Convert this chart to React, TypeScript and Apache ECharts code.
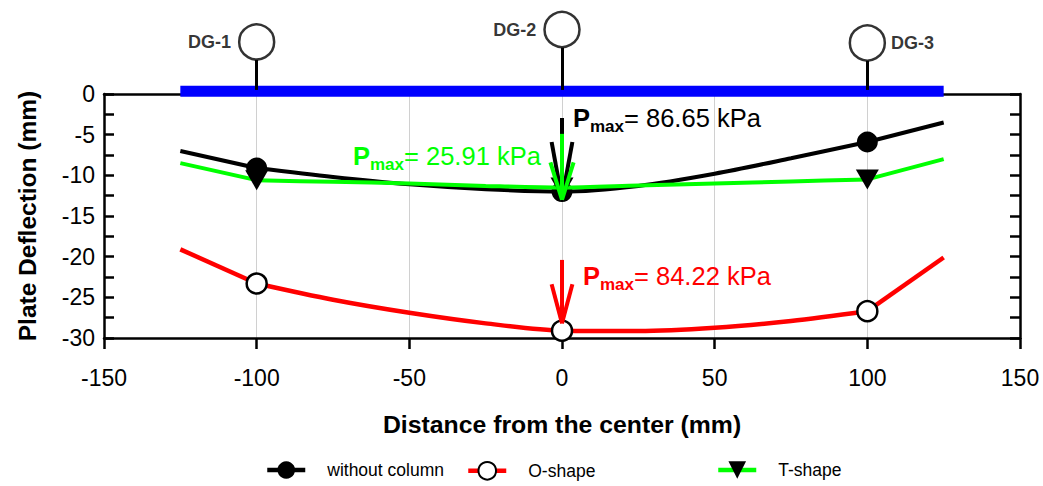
import React, { useEffect, useRef } from "react";
import * as echarts from "echarts";

// ---------- data ----------
const distances = [-125, -100, -75, -50, -25, 0, 25, 50, 75, 100, 125];
const gaugeDistances = [-100, 0, 100];
const withoutColumn = [-7.0, -9.1, -10.2, -11.1, -11.7, -12.0, -11.3, -9.8, -7.9, -5.9, -3.5];
const oShape = [-19.1, -23.3, -25.3, -26.9, -28.2, -29.1, -29.15, -28.75, -27.9, -26.7, -20.1];
const tShape = [-8.5, -10.6, -10.8, -11.0, -11.3, -11.5, -11.25, -11.0, -10.75, -10.5, -8.0];

const xTicks = [-150, -100, -50, 0, 50, 100, 150];
const plateSpan = [-125, 125];
const plateLevel = 0.35;

const gaugeNames = ["DG-1", "DG-2", "DG-3"];
const gaugeHeights = [6.4, 7.93, 6.27];
const gaugeStemTops = [4.2, 5.7, 4.1];
const gaugeStemBottom = 0.5;
const gaugeLabelSides = ["left", "left", "right"];

// load arrows at centre: [shaftTop, headTop, tip, headHalfWidth]
const arrowBlack = [-2.95, -5.9, -12.9, 3.4];
const arrowGreen = [-4.9, -8.4, -13.0, 3.8];
const arrowRed = [-20.4, -23.4, -28.2, 3.4];
const loadTexts = ["86.65", "25.91", "84.22"];

const FONT = "'Liberation Sans', Arial, Helvetica, sans-serif";

const firstGauge = distances.indexOf(gaugeDistances[0]);
const lastGauge = distances.indexOf(gaugeDistances[gaugeDistances.length - 1]);

function innerData(values: number[]) {
  const out: any[] = [];
  for (let i = firstGauge; i <= lastGauge; i++) {
    const x = distances[i];
    const item: any = { value: [x, values[i]] };
    if (!gaugeDistances.includes(x)) item.symbol = "none";
    out.push(item);
  }
  return out;
}

function extensionSeries(values: number[], color: string, width: number, z: number) {
  const left = distances.slice(0, firstGauge + 1).map((x, k) => [x, values[k]]);
  const right = distances.slice(lastGauge).map((x, k) => [x, values[lastGauge + k]]);
  return [left, right].map((data) => ({
    type: "line",
    symbol: "none",
    silent: true,
    z,
    lineStyle: { color, width },
    data,
  }));
}

function arrowCoords(a: number[]) {
  const [top, headTop, tip, hw] = a;
  return [
    { coords: [[0, top], [0, tip]] },
    { coords: [[-hw, headTop], [0, tip]] },
    { coords: [[hw, headTop], [0, tip]] },
  ];
}

function arrowSeries(a: number[], color: string, z: number) {
  return {
    type: "lines",
    coordinateSystem: "cartesian2d",
    clip: false,
    silent: true,
    z,
    lineStyle: { color, width: 4, opacity: 1, curveness: 0, cap: "butt" },
    data: arrowCoords(a),
  };
}

function annotation(left: number, top: number, value: string, color: string) {
  return {
    type: "text",
    left,
    top,
    z: 100,
    style: {
      text: `{p|P}{s|max}{t|= ${value} kPa}`,
      fill: color,
      rich: {
        p: { fontSize: 25.5, fontWeight: "bold", fontFamily: FONT, fill: color, verticalAlign: "top", lineHeight: 26 },
        s: { fontSize: 17, fontWeight: "bold", fontFamily: FONT, fill: color, verticalAlign: "top", lineHeight: 18, padding: [13, 0, 0, 0] },
        t: { fontSize: 25.5, fontFamily: FONT, fill: color, verticalAlign: "top", lineHeight: 26 },
      },
    },
  };
}

export default function App() {
  const ref = useRef<HTMLDivElement>(null);

  useEffect(() => {
    if (!ref.current) return;
    const chart = echarts.init(ref.current, undefined, { renderer: "svg" });

    const axisLine = { show: true, onZero: false, lineStyle: { color: "#000", width: 2.5 } };
    const yCommon = {
      type: "value",
      min: -30,
      max: 0,
      interval: 5,
      axisLine,
      axisTick: { show: true, inside: true, length: 10, lineStyle: { color: "#000", width: 2.5 } },
      minorTick: { show: true, splitNumber: 2, length: 10, lineStyle: { color: "#000", width: 2.5 } },
      splitLine: { show: false },
    };

    const legendCommon = {
      orient: "horizontal",
      top: 461,
      padding: 0,
      itemWidth: 38,
      itemHeight: 22,
      itemGap: 0,
      lineStyle: { width: 4.5 },
      textStyle: { fontSize: 17.5, color: "#000", fontFamily: FONT, padding: [0, 0, 0, 17] },
      selectedMode: false,
    };

    chart.setOption({
      animation: false,
      backgroundColor: "#fff",
      textStyle: { fontFamily: FONT },
      grid: { left: 104, right: 23, top: 94, bottom: 148, containLabel: false },
      xAxis: [
        {
          type: "value",
          min: xTicks[0],
          max: xTicks[xTicks.length - 1],
          interval: 50,
          position: "bottom",
          axisLine,
          axisTick: { show: true, inside: false, length: 11, lineStyle: { color: "#000", width: 2.5 } },
          axisLabel: { fontSize: 23, color: "#000", fontFamily: FONT, margin: 28 },
          splitLine: { show: true, lineStyle: { color: "#d0d0d0", width: 1 } },
          name: "Distance from the center (mm)",
          nameLocation: "middle",
          nameGap: 74,
          nameTextStyle: { fontSize: 24.8, fontWeight: "bold", color: "#000", fontFamily: FONT },
        },
        {
          type: "value",
          min: xTicks[0],
          max: xTicks[xTicks.length - 1],
          interval: 50,
          position: "top",
          axisLine,
          axisTick: { show: false },
          axisLabel: { show: false },
          splitLine: { show: false },
        },
      ],
      yAxis: [
        {
          ...yCommon,
          position: "left",
          axisLabel: { fontSize: 23, color: "#000", fontFamily: FONT, margin: 9 },
          name: "Plate Deflection (mm)",
          nameLocation: "middle",
          nameGap: 64,
          nameTextStyle: { fontSize: 24.5, fontWeight: "bold", color: "#000", fontFamily: FONT },
        },
        {
          ...yCommon,
          position: "right",
          axisLabel: { show: false },
        },
      ],
      legend: [
        { ...legendCommon, left: 265, data: ["without column"] },
        { ...legendCommon, left: 466, data: ["O-shape"] },
        { ...legendCommon, left: 716, data: ["T-shape"] },
      ],
      graphic: [
        annotation(573, 105, loadTexts[0], "#000"),
        annotation(353, 143, loadTexts[1], "#00ff00"),
        annotation(583, 263, loadTexts[2], "#ff0000"),
      ],
      series: [
        {
          name: "plate",
          type: "line",
          clip: false,
          silent: true,
          symbol: "none",
          z: 3,
          lineStyle: { color: "#0000ff", width: 11, cap: "butt" },
          data: plateSpan.map((x) => [x, plateLevel]),
        },
        ...extensionSeries(withoutColumn, "#000", 4, 4),
        ...extensionSeries(oShape, "#ff0000", 4.5, 4),
        ...extensionSeries(tShape, "#00ff00", 4, 4),
        {
          name: "without column",
          type: "line",
          smooth: 0.3,
          symbol: "circle",
          symbolSize: 21,
          z: 5,
          lineStyle: { color: "#000", width: 4 },
          itemStyle: { color: "#000" },
          data: innerData(withoutColumn),
        },
        {
          name: "O-shape",
          type: "line",
          smooth: 0.3,
          symbol: "circle",
          symbolSize: 20,
          z: 5,
          lineStyle: { color: "#ff0000", width: 4.5 },
          itemStyle: { color: "#fff", borderColor: "#000", borderWidth: 2.5 },
          data: innerData(oShape),
        },
        {
          name: "T-shape",
          type: "line",
          smooth: 0.3,
          symbol: "triangle",
          symbolRotate: 180,
          symbolSize: [23, 20],
          z: 6,
          lineStyle: { color: "#00ff00", width: 4 },
          itemStyle: { color: "#000" },
          data: innerData(tShape),
        },
        {
          name: "stems",
          type: "lines",
          coordinateSystem: "cartesian2d",
          clip: false,
          silent: true,
          z: 8,
          lineStyle: { color: "#000", width: 3, opacity: 1, curveness: 0 },
          data: gaugeDistances.map((x, i) => ({ coords: [[x, gaugeStemBottom], [x, gaugeStemTops[i]]] })),
        },
        {
          name: "gauges",
          type: "scatter",
          clip: false,
          silent: true,
          z: 9,
          symbol: "circle",
          symbolSize: 35,
          itemStyle: { color: "#fff", borderColor: "#000", borderWidth: 2.5 },
          data: gaugeDistances.map((x, i) => ({
            name: gaugeNames[i],
            value: [x, gaugeHeights[i]],
            label: {
              show: true,
              position: gaugeLabelSides[i],
              distance: gaugeLabelSides[i] === "left" ? 7 : 5,
              formatter: "{b}",
              fontSize: 18,
              fontWeight: "bold",
              color: "#000",
              fontFamily: FONT,
            },
          })),
        },
        arrowSeries(arrowBlack, "#000", 10),
        arrowSeries(arrowGreen, "#00ff00", 11),
        arrowSeries(arrowRed, "#ff0000", 11),
      ],
    });

    return () => chart.dispose();
  }, []);

  return (
    <div
      ref={ref}
      style={{ position: "fixed", left: 0, top: 0, width: 1043, height: 486, background: "#fff" }}
    />
  );
}
